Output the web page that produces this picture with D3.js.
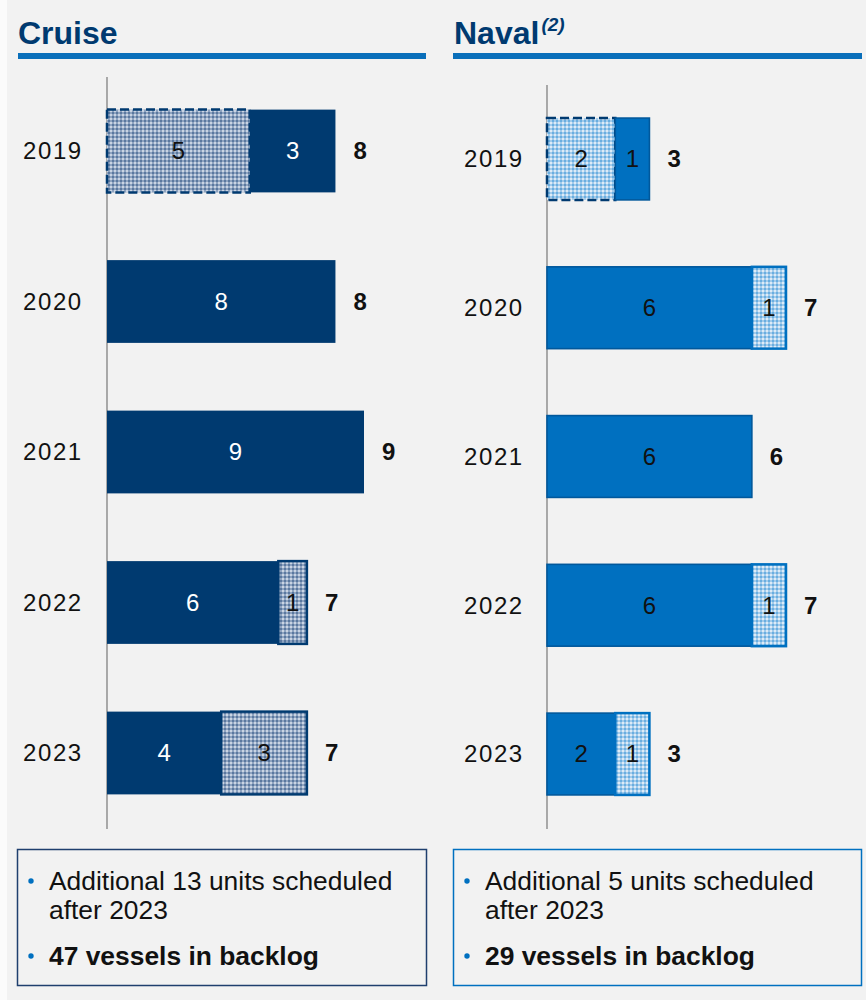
<!DOCTYPE html>
<html>
<head>
<meta charset="utf-8">
<script src="https://cdn.jsdelivr.net/npm/d3@7"></script>
<style>
  html, body { margin: 0; padding: 0; background: #f2f2f2; }
  svg { display: block; font-family: "Liberation Sans", Arial, sans-serif; }
</style>
</head>
<body>
<div id="chart"></div>
<script>
// ---- Data ----
const years = ["2019", "2020", "2021", "2022", "2023"];
const cruiseDelivered = [5, 0, 0, 0, 0];   // dashed hatched
const cruiseFirm      = [3, 8, 9, 6, 4];   // solid
const cruiseOption    = [0, 0, 0, 1, 3];   // hatched
const navalDelivered  = [2, 0, 0, 0, 0];
const navalFirm       = [1, 6, 6, 6, 2];
const navalOption     = [0, 1, 0, 1, 1];
const cruiseNotes = ["Additional 13 units scheduled", "after 2023", "47 vessels in backlog"];
const navalNotes  = ["Additional 5 units scheduled", "after 2023", "29 vessels in backlog"];

const W = 866, H = 1000;
const svg = d3.select("#chart").append("svg").attr("width", W).attr("height", H);
svg.append("rect").attr("width", W).attr("height", H).attr("fill", "#f2f2f2");
svg.append("rect").attr("width", 7).attr("height", H).attr("fill", "#fbfbfb");

const defs = svg.append("defs");
function checker(id, base, dark, light) {
  const p = defs.append("pattern").attr("id", id).attr("patternUnits", "userSpaceOnUse")
    .attr("width", 4).attr("height", 4);
  p.append("rect").attr("width", 4).attr("height", 4).attr("fill", base);
  p.append("rect").attr("x", 0).attr("y", 0).attr("width", 2).attr("height", 2).attr("fill", dark);
  p.append("rect").attr("x", 2).attr("y", 2).attr("width", 2).attr("height", 2).attr("fill", light);
}
checker("hatchNavy", "#8ea3c0", "#5a789f", "#c9d4e3");
checker("hatchBlue", "#a2cbeb", "#6aaee0", "#ddebf7");

const NAVY = "#003a70", BLUE = "#0070c0";

function panel(cfg) {
  const g = svg.append("g");
  // Title
  const t = g.append("text").attr("x", cfg.titleX).attr("y", 44)
    .attr("font-size", 32).attr("font-weight", "bold").attr("fill", NAVY).text(cfg.title);
  if (cfg.sup) {
    t.append("tspan").attr("font-size", 19).attr("font-style", "italic").attr("dy", -13).attr("dx", 2).text(cfg.sup);
  }
  g.append("rect").attr("x", cfg.lineX0).attr("y", 53).attr("width", cfg.lineX1 - cfg.lineX0).attr("height", 6).attr("fill", "#0a6fba");

  const x = d3.scaleLinear().domain(cfg.xDomain).range(cfg.xRange);
  const y = d3.scaleBand().domain(years).range(cfg.yRange).paddingInner(0.45).paddingOuter(0.225);

  // axis line
  g.append("line").attr("x1", x(0)).attr("x2", x(0)).attr("y1", cfg.axisTop).attr("y2", 829)
    .attr("stroke", "#808080").attr("stroke-width", 1.3);

  // year labels
  const ax = d3.axisLeft(y).tickSize(0).tickPadding(0);
  const axG = g.append("g").attr("transform", `translate(${cfg.yearX},0)`).call(ax);
  axG.select(".domain").remove();
  axG.selectAll("text").attr("font-size", 24).attr("fill", "#111").attr("letter-spacing", 1.6)
    .attr("font-family", "'Liberation Sans', Arial, sans-serif").attr("text-anchor", "start").attr("dy", "0.35em");

  years.forEach((yr, i) => {
    const segs = [
      { v: cfg.delivered[i], type: "delivered" },
      { v: cfg.firm[i], type: "firm" },
      { v: cfg.option[i], type: "option" }
    ].filter(s => s.v > 0);
    let acc = 0;
    const y0 = y(yr), bh = y.bandwidth();
    segs.forEach(s => {
      const xs = x(acc), xe = x(acc + s.v);
      const r = g.append("rect").attr("x", xs).attr("y", y0).attr("width", xe - xs).attr("height", bh);
      let txtColor = "#111";
      if (s.type === "firm") {
        r.attr("fill", cfg.color);
        if (cfg.firmStroke) r.attr("stroke", cfg.firmStroke).attr("stroke-width", 1.6);
        txtColor = cfg.firmText;
      } else if (s.type === "delivered") {
        r.attr("fill", `url(#${cfg.hatch})`).attr("stroke", NAVY).attr("stroke-width", 2.5)
          .attr("stroke-dasharray", "9,4");
      } else {
        r.attr("fill", `url(#${cfg.hatch})`).attr("stroke", cfg.color).attr("stroke-width", 2.5);
      }
      g.append("text").attr("x", (xs + xe) / 2).attr("y", y0 + bh / 2).attr("dy", "0.35em")
        .attr("text-anchor", "middle").attr("font-size", 24).attr("fill", txtColor).text(s.v);
      acc += s.v;
    });
    g.append("text").attr("x", x(acc) + 18).attr("y", y0 + bh / 2).attr("dy", "0.35em")
      .attr("font-size", 24).attr("font-weight", "bold").attr("fill", "#111").text(acc);
  });

  // Notes box
  g.append("rect").attr("x", cfg.boxX).attr("y", 849.5).attr("width", cfg.boxW).attr("height", 136)
    .attr("fill", "none").attr("stroke", cfg.boxStroke).attr("stroke-width", 1.5);
  const bullets = [{ y: 890, text: cfg.notes[0], bold: false, bullet: true },
                   { y: 919, text: cfg.notes[1], bold: false, bullet: false },
                   { y: 965, text: cfg.notes[2], bold: true, bullet: true }];
  bullets.forEach(b => {
    if (b.bullet) g.append("circle").attr("cx", cfg.bulletX).attr("cy", b.y - 9).attr("r", 2.7).attr("fill", BLUE);
    g.append("text").attr("x", cfg.textX).attr("y", b.y).attr("font-size", 26.4)
      .attr("font-weight", b.bold ? "bold" : "normal").attr("fill", "#111").text(b.text);
  });
}

panel({
  title: "Cruise", sup: null, titleX: 18, lineX0: 18, lineX1: 426,
  xDomain: [0, 9], xRange: [107, 364], yRange: [75.75, 828.25], axisTop: 77, yearX: 23,
  delivered: cruiseDelivered, firm: cruiseFirm, option: cruiseOption,
  color: NAVY, firmStroke: null, firmText: "#ffffff", hatch: "hatchNavy",
  boxX: 17.5, boxW: 409, boxStroke: "#1f3f6e", bulletX: 31, textX: 49, notes: cruiseNotes
});
panel({
  title: "Naval", sup: "(2)", titleX: 454, lineX0: 453, lineX1: 862,
  xDomain: [0, 7], xRange: [547, 786], yRange: [84.6, 828.4], axisTop: 85, yearX: 464,
  delivered: navalDelivered, firm: navalFirm, option: navalOption,
  color: BLUE, firmStroke: "#00589c", firmText: "#111", hatch: "hatchBlue",
  boxX: 453.5, boxW: 408, boxStroke: BLUE, bulletX: 467, textX: 485, notes: navalNotes
});
</script>
</body>
</html>
